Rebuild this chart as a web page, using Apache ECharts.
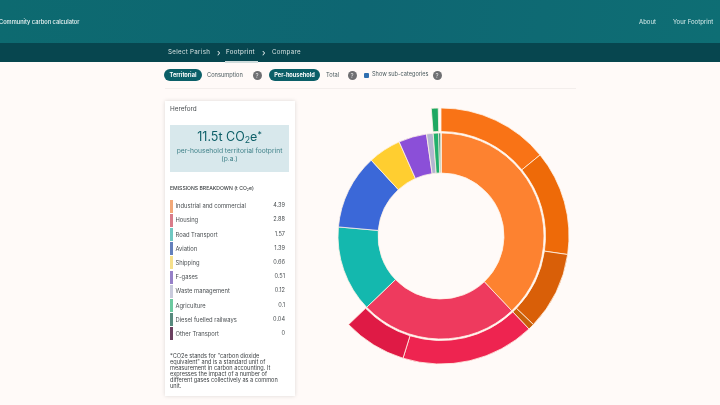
<!DOCTYPE html>
<html>
<head>
<meta charset="utf-8">
<script src="https://cdn.jsdelivr.net/npm/echarts@6/dist/echarts.min.js"></script>
<style>
  html, body { margin: 0; padding: 0; width: 720px; height: 405px; overflow: hidden; background: #fffaf8; font-family: Inter, "Noto Sans", sans-serif; }
  .abs { position: absolute; white-space: nowrap; line-height: 1; }
  #header { position: absolute; left: 0; top: 0; width: 720px; height: 43px; background: linear-gradient(100deg, #0d6a70, #0e6672 50%, #0e6e74); }
  #subnav { position: absolute; left: 0; top: 43px; width: 720px; height: 19px; background: #07464f; }
  #underline { position: absolute; left: 225px; top: 61px; width: 33px; height: 1.5px; background: #cfdcdc; }
  #divider { position: absolute; left: 165px; top: 88px; width: 411px; height: 1px; background: #f3eeec; }
  .pill { position: absolute; top: 69px; height: 12px; line-height: 12px; border-radius: 6px; background: #0b5f68; color: #fff; font-size: 5.6px; font-weight: 700; text-align: center; }
  .help { position: absolute; top: 70.5px; width: 9px; height: 9px; line-height: 9px; border-radius: 50%; background: #6f6f72; color: #ddd; font-size: 6px; text-align: center; }
  #check { position: absolute; left: 364px; top: 72.5px; width: 5px; height: 5px; background: #2f6fb0; border-radius: 1px; }
  #card { position: absolute; left: 165px; top: 101px; width: 130px; height: 295px; background: #fff; box-shadow: 0 0 4px rgba(0,0,0,0.14); }
  #callout { position: absolute; left: 170px; top: 125px; width: 119px; height: 47px; background: #d8e8ec; }
  .bar { position: absolute; left: 170px; width: 2.5px; height: 13px; }
  #chart { position: absolute; left: 0; top: 0; width: 720px; height: 405px; }
  sub { font-size: 70%; vertical-align: -0.25em; line-height: 0; }
  sup { font-size: 70%; vertical-align: 0.4em; line-height: 0; }
</style>
</head>
<body>
<div id="header"></div>
<div id="subnav"></div>
<div id="underline"></div>
<div id="divider"></div>
<div id="card"></div>
<div id="callout"></div>
<div id="chart"></div>
<div id="page"></div>
<script>
// main ring
const categories = ['Industrial and commercial', 'Housing', 'Road Transport', 'Aviation', 'Shipping', 'F-gases', 'Waste management', 'Agriculture', 'Diesel fuelled railways', 'Other Transport'];
const values = [4.39, 2.88, 1.57, 1.36, 0.6, 0.51, 0.12, 0.1, 0.04, 0];
const valueLabels = ['4.39', '2.88', '1.57', '1.39', '0.66', '0.51', '0.12', '0.1', '0.04', '0'];
const colors = ['#fd8230', '#ee3a5e', '#14b8ae', '#3b68d8', '#ffce30', '#8b4fd8', '#b4b6d0', '#22b06c', '#1e7a60', '#6b2d5c'];
const barColors = ['#f2a878', '#d97c8a', '#70c8c2', '#6480bc', '#f6e08c', '#9680c8', '#c8cadc', '#6cc9a0', '#588a7e', '#6b4060'];

// sub-categories, outer ring. null colour = nothing drawn there
const subNames = ['Industrial 1', 'Industrial 2', 'Industrial 3', 'Industrial 4', 'Housing 1', 'Housing 2', 'none', 'Agriculture', 'none'];
const subValues = [1.63, 1.53, 1.14, 0.09, 1.95, 0.93, 4.16, 0.1, 0.04];
const subColors = ['#f97316', '#ee6a08', '#d95f08', '#c8600a', '#ee2450', '#df1a45', null, '#1fa862', null];

const footnote = ['*CO2e stands for "carbon dioxide', 'equivalent" and is a standard unit of', 'measurement in carbon accounting. It', 'expresses the impact of a number of', 'different gases collectively as a common', 'unit.'];

const page = document.getElementById('page');
function text(str, x, y, size, color, extra) {
  const d = document.createElement('div');
  d.className = 'abs';
  d.style.cssText = 'left:' + x + 'px;top:' + (y - size / 2) + 'px;font-size:' + size + 'px;color:' + color + ';' + (extra || '');
  d.innerHTML = str;
  page.appendChild(d);
  return d;
}
function help(x) {
  const d = document.createElement('div');
  d.className = 'help';
  d.style.left = (x - 4.5) + 'px';
  d.textContent = '?';
  page.appendChild(d);
}
function pill(str, x, w) {
  const d = document.createElement('div');
  d.className = 'pill';
  d.style.left = x + 'px';
  d.style.width = w + 'px';
  d.textContent = str;
  page.appendChild(d);
}

text('Community carbon calculator', -1, 21.5, 5.7, '#f2f7f7', 'font-weight:500');
text('About', 639, 21.5, 6, '#d8ecec');
text('Your Footprint', 673, 21.5, 6, '#d8ecec');
text('Select Parish', 168, 52.5, 6.2, '#d4e0e0', 'letter-spacing:0.3px');
text('›', 217, 52.5, 9, '#e8f0f0');
text('Footprint', 226, 52.5, 6.2, '#e4ecec', 'letter-spacing:0.3px');
text('›', 262, 52.5, 9, '#e8f0f0');
text('Compare', 272, 52.5, 6.2, '#d4e0e0', 'letter-spacing:0.3px');

pill('Territorial', 164, 38);
text('Consumption', 207, 75, 5.7, '#4a5a5e');
help(257);
pill('Per-household', 269, 51);
text('Total', 326, 75, 5.7, '#4a5a5e');
help(352);
const check = document.createElement('div');
check.id = 'check';
page.appendChild(check);
text('Show sub-categories', 372, 75, 5.6, '#4a5a5e');
help(437);

text('Hereford', 170, 109.5, 6.4, '#4a4f52');
text('11.5t CO<sub>2</sub>e<sup>*</sup>', 170, 137, 12.5, '#0d5f68', 'width:119px;text-align:center');
text('per-household territorial footprint', 170, 151.5, 6.7, '#3f8088', 'width:119px;text-align:center');
text('(p.a.)', 170, 159, 6.7, '#3f8088', 'width:119px;text-align:center');
text('EMISSIONS BREAKDOWN (t CO<sub>2</sub>e)', 170, 189, 5.1, '#3c4043', 'font-weight:500');

categories.forEach(function (name, i) {
  const y = 206 + i * 14.2;
  const bar = document.createElement('div');
  bar.className = 'bar';
  bar.style.top = (y - 6.5) + 'px';
  bar.style.background = barColors[i];
  page.appendChild(bar);
  text(name, 175.5, y, 5.8, '#4a4f52');
  text(valueLabels[i], 255, y, 5.6, '#4a4f52', 'width:30px;text-align:right');
});

footnote.forEach(function (line, i) {
  text(line, 170, 356.5 + i * 6.1, 5.6, '#3c4043');
});

const chart = echarts.init(document.getElementById('chart'));

const innerData = categories.map(function (name, i) {
  return { name: name, value: values[i], itemStyle: { color: colors[i] } };
});
const outerData = subNames.map(function (name, i) {
  if (subColors[i] === null) {
    return { name: name, value: subValues[i], itemStyle: { color: 'transparent', borderWidth: 0 } };
  }
  return { name: name, value: subValues[i], itemStyle: { color: subColors[i] } };
});

const common = {
  type: 'pie',
  center: [441, 236],
  startAngle: 90,
  silent: true,
  label: { show: false },
  labelLine: { show: false },
  itemStyle: { borderColor: '#fff3e6', borderWidth: 0.8 }
};

chart.setOption({
  animation: false,
  series: [
    Object.assign({}, common, { radius: [63, 103], data: innerData }),
    Object.assign({}, common, { radius: [104.5, 128], data: outerData })
  ]
});
</script>
</body>
</html>
